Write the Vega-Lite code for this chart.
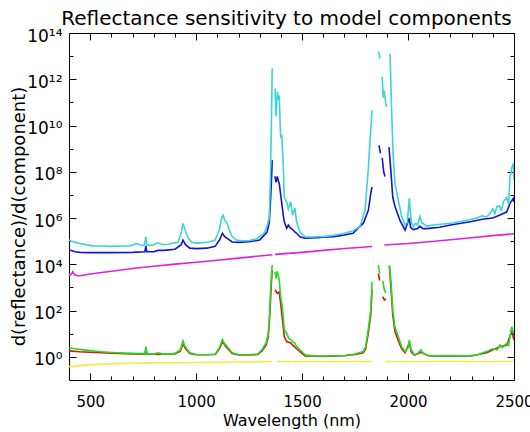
{
  "$schema": "https://vega.github.io/schema/vega-lite/v6.json",
  "autosize": "none",
  "padding": {"left": 69, "top": 33, "right": 16, "bottom": 52},
  "width": 445,
  "height": 347,
  "background": "white",
  "title": {"text": "Reflectance sensitivity to model components", "font": "DejaVu Sans", "fontSize": 20, "fontWeight": "normal", "color": "black", "anchor": "middle", "baseline": "alphabetic", "offset": 9, "dx": -5, "dy": 27},
  "config": {
    "view": {"stroke": "black", "strokeWidth": 1},
    "axis": {"domain": false, "grid": false, "tickColor": "black", "tickWidth": 1, "labelColor": "black", "titleColor": "black", "labelFont": "DejaVu Sans", "titleFont": "DejaVu Sans", "titleFontWeight": "normal", "labelFlush": false, "labelOverlap": false, "labelBound": false}
  },
  "datasets": {
    "cyan": [
      {"w":400,"v":1.12e5},{"w":410,"v":1.0e5},{"w":430,"v":8.9e4},{"w":450,"v":7.9e4},{"w":480,"v":7.1e4},{"w":510,"v":6.3e4},{"w":550,"v":6.2e4},{"w":600,"v":6.0e4},{"w":650,"v":6.2e4},{"w":690,"v":6.3e4},{"w":705,"v":7.1e4},{"w":720,"v":7.9e4},{"w":735,"v":6.8e4},{"w":755,"v":6.6e4},{"w":760,"v":1.12e5},{"w":763,"v":1.55e5},{"w":767,"v":7.1e4},{"w":780,"v":6.6e4},{"w":800,"v":6.9e4},{"w":815,"v":8.3e4},{"w":825,"v":7.9e4},{"w":840,"v":7.2e4},{"w":870,"v":7.4e4},{"w":895,"v":8.3e4},{"w":915,"v":8.9e4},{"w":930,"v":2.5e5},{"w":938,"v":5.9e5},{"w":945,"v":3.6e5},{"w":955,"v":2.0e5},{"w":965,"v":1.26e5},{"w":980,"v":8.9e4},{"w":1000,"v":8.3e4},{"w":1030,"v":8.7e4},{"w":1060,"v":9.3e4},{"w":1090,"v":1.12e5},{"w":1110,"v":3.2e5},{"w":1120,"v":1.0e6},{"w":1127,"v":1.35e6},{"w":1135,"v":7.9e5},{"w":1145,"v":6.3e5},{"w":1155,"v":3.2e5},{"w":1170,"v":1.58e5},{"w":1190,"v":1.12e5},{"w":1220,"v":1.05e5},{"w":1250,"v":1.07e5},{"w":1280,"v":1.2e5},{"w":1300,"v":1.55e5},{"w":1320,"v":2.2e5},{"w":1335,"v":4.5e5},{"w":1345,"v":1.0e6},{"w":1350,"v":3.2e7},{"w":1355,"v":1.0e10},{"w":1359,"v":2.9e12},{"w":1365,"v":null},{"w":1372,"v":4.0e11},{"w":1377,"v":2.5e10},{"w":1383,"v":2.8e11},{"w":1388,"v":1.6e11},{"w":1392,"v":2.0e11},{"w":1399,"v":2.8e9},{"w":1404,"v":4.0e9},{"w":1411,"v":2.0e8},{"w":1416,"v":7.9e6},{"w":1427,"v":5.0e6},{"w":1435,"v":2.5e6},{"w":1446,"v":5.0e6},{"w":1455,"v":1.35e6},{"w":1466,"v":2.7e6},{"w":1474,"v":6.9e5},{"w":1490,"v":2.5e5},{"w":1514,"v":1.55e5},{"w":1540,"v":1.51e5},{"w":1570,"v":1.55e5},{"w":1600,"v":1.58e5},{"w":1650,"v":1.78e5},{"w":1700,"v":2.2e5},{"w":1740,"v":2.8e5},{"w":1773,"v":4.2e5},{"w":1797,"v":2.2e6},{"w":1812,"v":1.17e8},{"w":1824,"v":6.3e9},{"w":1830,"v":4.6e10},{"w":1836,"v":null},{"w":1860,"v":1.6e13},{"w":1868,"v":7.9e12},{"w":1873,"v":null},{"w":1878,"v":1.26e12},{"w":1883,"v":1.6e11},{"w":1888,"v":3.2e11},{"w":1894,"v":1.0e11},{"w":1899,"v":6.3e10},{"w":1905,"v":null},{"w":1915,"v":1.26e13},{"w":1923,"v":3.2e10},{"w":1930,"v":4.4e8},{"w":1938,"v":3.2e7},{"w":1954,"v":6.0e6},{"w":1970,"v":1.15e6},{"w":1986,"v":5.0e5},{"w":1996,"v":6.3e5},{"w":2006,"v":7.2e6},{"w":2012,"v":1.26e6},{"w":2017,"v":6.0e5},{"w":2025,"v":4.2e5},{"w":2033,"v":5.9e5},{"w":2045,"v":5.0e5},{"w":2056,"v":1.15e6},{"w":2065,"v":6.3e5},{"w":2088,"v":4.5e5},{"w":2120,"v":5.0e5},{"w":2166,"v":5.5e5},{"w":2200,"v":6.0e5},{"w":2250,"v":7.1e5},{"w":2300,"v":8.9e5},{"w":2324,"v":1.0e6},{"w":2350,"v":1.26e6},{"w":2370,"v":1.12e6},{"w":2387,"v":1.58e6},{"w":2400,"v":2.5e6},{"w":2410,"v":1.58e6},{"w":2420,"v":3.2e6},{"w":2434,"v":3.2e6},{"w":2440,"v":2.0e6},{"w":2450,"v":5.0e6},{"w":2466,"v":7.9e6},{"w":2475,"v":4.0e6},{"w":2481,"v":6.0e7},{"w":2490,"v":1.58e8},{"w":2497,"v":2.3e8},{"w":2500,"v":4.4e7}
    ],
    "blue": [
      {"w":400,"v":4.2e4},{"w":410,"v":4.0e4},{"w":430,"v":3.5e4},{"w":450,"v":3.3e4},{"w":500,"v":3.2e4},{"w":600,"v":3.2e4},{"w":700,"v":3.3e4},{"w":758,"v":3.5e4},{"w":763,"v":6.2e4},{"w":767,"v":3.5e4},{"w":800,"v":3.5e4},{"w":820,"v":4.0e4},{"w":850,"v":4.0e4},{"w":900,"v":4.5e4},{"w":930,"v":7.1e4},{"w":938,"v":1.12e5},{"w":950,"v":7.1e4},{"w":970,"v":5.0e4},{"w":1000,"v":4.8e4},{"w":1050,"v":5.0e4},{"w":1090,"v":6.0e4},{"w":1110,"v":1.12e5},{"w":1124,"v":2.2e5},{"w":1135,"v":1.58e5},{"w":1150,"v":1.26e5},{"w":1170,"v":9.3e4},{"w":1200,"v":8.9e4},{"w":1250,"v":9.5e4},{"w":1300,"v":1.12e5},{"w":1320,"v":1.78e5},{"w":1335,"v":2.5e5},{"w":1345,"v":6.3e5},{"w":1350,"v":4.0e6},{"w":1355,"v":3.2e7},{"w":1359,"v":3.2e8},{"w":1365,"v":null},{"w":1372,"v":6.3e7},{"w":1377,"v":3.5e7},{"w":1383,"v":6.3e7},{"w":1388,"v":4.0e7},{"w":1392,"v":3.2e7},{"w":1399,"v":1.0e7},{"w":1406,"v":3.2e6},{"w":1411,"v":1.35e6},{"w":1416,"v":6.9e5},{"w":1427,"v":3.6e5},{"w":1435,"v":5.0e5},{"w":1446,"v":3.6e5},{"w":1455,"v":3.2e5},{"w":1466,"v":2.5e5},{"w":1474,"v":2.2e5},{"w":1490,"v":1.55e5},{"w":1514,"v":1.35e5},{"w":1570,"v":1.41e5},{"w":1600,"v":1.48e5},{"w":1650,"v":1.58e5},{"w":1700,"v":1.86e5},{"w":1740,"v":2.2e5},{"w":1789,"v":6.0e5},{"w":1813,"v":2.2e6},{"w":1824,"v":1.17e7},{"w":1830,"v":2.2e7},{"w":1836,"v":null},{"w":1863,"v":1.4e9},{"w":1870,"v":6.3e8},{"w":1873,"v":null},{"w":1878,"v":4.0e8},{"w":1885,"v":1.0e8},{"w":1891,"v":6.3e7},{"w":1905,"v":null},{"w":1910,"v":1.17e9},{"w":1920,"v":7.9e7},{"w":1928,"v":7.9e6},{"w":1938,"v":3.2e6},{"w":1962,"v":7.9e5},{"w":1986,"v":3.0e5},{"w":2006,"v":1.0e6},{"w":2012,"v":4.0e5},{"w":2025,"v":3.2e5},{"w":2045,"v":3.5e5},{"w":2056,"v":4.5e5},{"w":2070,"v":3.5e5},{"w":2088,"v":3.5e5},{"w":2150,"v":4.0e5},{"w":2200,"v":5.0e5},{"w":2250,"v":6.0e5},{"w":2300,"v":7.1e5},{"w":2350,"v":8.9e5},{"w":2400,"v":1.0e6},{"w":2434,"v":1.35e6},{"w":2466,"v":1.86e6},{"w":2481,"v":4.3e6},{"w":2497,"v":7.1e6},{"w":2500,"v":5.0e6}
    ],
    "magenta": [
      {"w":400,"v":3.5e3},{"w":410,"v":3.6e3},{"w":418,"v":4.8e3},{"w":425,"v":3.6e3},{"w":440,"v":3.2e3},{"w":460,"v":3.3e3},{"w":500,"v":3.8e3},{"w":600,"v":5.0e3},{"w":700,"v":6.6e3},{"w":800,"v":8.3e3},{"w":900,"v":1.02e4},{"w":1000,"v":1.23e4},{"w":1100,"v":1.5e4},{"w":1200,"v":1.86e4},{"w":1300,"v":2.3e4},{"w":1360,"v":2.6e4},{"w":1365,"v":null},{"w":1372,"v":2.7e4},{"w":1500,"v":3.3e4},{"w":1600,"v":4.0e4},{"w":1700,"v":4.8e4},{"w":1800,"v":5.6e4},{"w":1830,"v":5.9e4},{"w":1836,"v":null},{"w":1888,"v":6.9e4},{"w":2000,"v":7.9e4},{"w":2100,"v":9.5e4},{"w":2200,"v":1.15e5},{"w":2300,"v":1.41e5},{"w":2400,"v":1.74e5},{"w":2500,"v":2.1e5}
    ],
    "green": [
      {"w":400,"v":2.5},{"w":420,"v":2.3},{"w":450,"v":2.1},{"w":500,"v":1.86},{"w":550,"v":1.66},{"w":600,"v":1.55},{"w":650,"v":1.48},{"w":700,"v":1.41},{"w":740,"v":1.38},{"w":758,"v":1.38},{"w":763,"v":2.75},{"w":768,"v":1.38},{"w":800,"v":1.32},{"w":820,"v":1.51},{"w":840,"v":1.35},{"w":880,"v":1.32},{"w":900,"v":1.41},{"w":925,"v":2.0},{"w":938,"v":4.9},{"w":945,"v":3.16},{"w":955,"v":2.24},{"w":970,"v":1.51},{"w":1000,"v":1.26},{"w":1050,"v":1.23},{"w":1090,"v":1.32},{"w":1110,"v":2.5},{"w":1124,"v":5.75},{"w":1132,"v":3.98},{"w":1140,"v":3.3},{"w":1155,"v":2.24},{"w":1170,"v":1.51},{"w":1200,"v":1.26},{"w":1250,"v":1.2},{"w":1290,"v":1.32},{"w":1310,"v":2.0},{"w":1330,"v":3.98},{"w":1340,"v":10},{"w":1345,"v":40},{"w":1350,"v":400},{"w":1355,"v":3200},{"w":1359,"v":9300},{"w":1365,"v":null},{"w":1372,"v":4800},{"w":1377,"v":2500},{"w":1383,"v":5000},{"w":1388,"v":3200},{"w":1392,"v":2100},{"w":1399,"v":400},{"w":1406,"v":160},{"w":1411,"v":55},{"w":1416,"v":14.8},{"w":1427,"v":10.5},{"w":1437,"v":6.3},{"w":1446,"v":5.4},{"w":1455,"v":4.6},{"w":1466,"v":4.0},{"w":1474,"v":2.8},{"w":1490,"v":2.0},{"w":1514,"v":1.23},{"w":1550,"v":1.1},{"w":1600,"v":1.07},{"w":1650,"v":1.12},{"w":1700,"v":1.15},{"w":1750,"v":1.32},{"w":1789,"v":1.7},{"w":1800,"v":2.8},{"w":1812,"v":14.8},{"w":1824,"v":107},{"w":1830,"v":1780},{"w":1836,"v":null},{"w":1860,"v":9300},{"w":1866,"v":4000},{"w":1873,"v":null},{"w":1880,"v":2000},{"w":1888,"v":800},{"w":1896,"v":575},{"w":1905,"v":null},{"w":1912,"v":9300},{"w":1920,"v":1500},{"w":1928,"v":107},{"w":1938,"v":20},{"w":1954,"v":7.6},{"w":1970,"v":2.75},{"w":1986,"v":1.7},{"w":2000,"v":2.5},{"w":2006,"v":5.4},{"w":2015,"v":2.0},{"w":2030,"v":1.23},{"w":2045,"v":1.41},{"w":2060,"v":2.0},{"w":2075,"v":1.32},{"w":2100,"v":1.12},{"w":2135,"v":1.1},{"w":2200,"v":1.1},{"w":2292,"v":1.1},{"w":2330,"v":1.26},{"w":2371,"v":1.7},{"w":2400,"v":2.24},{"w":2420,"v":2.0},{"w":2434,"v":3.3},{"w":2445,"v":2.5},{"w":2466,"v":3.9},{"w":2475,"v":3.16},{"w":2489,"v":20},{"w":2500,"v":10}
    ],
    "red": [
      {"w":400,"v":1.82},{"w":450,"v":1.66},{"w":500,"v":1.58},{"w":600,"v":1.45},{"w":700,"v":1.35},{"w":758,"v":1.32},{"w":763,"v":2.24},{"w":768,"v":1.32},{"w":800,"v":1.29},{"w":900,"v":1.32},{"w":925,"v":1.78},{"w":938,"v":3.6},{"w":950,"v":2.24},{"w":970,"v":1.41},{"w":1000,"v":1.23},{"w":1090,"v":1.26},{"w":1110,"v":2.24},{"w":1124,"v":4.6},{"w":1140,"v":2.8},{"w":1170,"v":1.41},{"w":1200,"v":1.2},{"w":1290,"v":1.26},{"w":1310,"v":1.78},{"w":1330,"v":3.2},{"w":1340,"v":7.1},{"w":1345,"v":25},{"w":1350,"v":200},{"w":1355,"v":1600},{"w":1359,"v":5600},{"w":1365,"v":null},{"w":1372,"v":800},{"w":1383,"v":560},{"w":1392,"v":630},{"w":1399,"v":200},{"w":1411,"v":20},{"w":1416,"v":7.6},{"w":1427,"v":4.6},{"w":1446,"v":4.0},{"w":1455,"v":3.3},{"w":1474,"v":2.24},{"w":1490,"v":1.7},{"w":1514,"v":1.1},{"w":1600,"v":1.05},{"w":1700,"v":1.12},{"w":1750,"v":1.26},{"w":1789,"v":1.51},{"w":1800,"v":2.24},{"w":1812,"v":10},{"w":1824,"v":63},{"w":1830,"v":800},{"w":1836,"v":null},{"w":1860,"v":4000},{"w":1866,"v":2000},{"w":1873,"v":null},{"w":1880,"v":400},{"w":1888,"v":290},{"w":1896,"v":316},{"w":1905,"v":null},{"w":1912,"v":7900},{"w":1920,"v":800},{"w":1928,"v":63},{"w":1938,"v":12.6},{"w":1954,"v":5.0},{"w":1970,"v":2.24},{"w":1986,"v":1.51},{"w":2006,"v":4.0},{"w":2015,"v":1.66},{"w":2030,"v":1.17},{"w":2060,"v":1.58},{"w":2100,"v":1.1},{"w":2200,"v":1.07},{"w":2300,"v":1.1},{"w":2371,"v":1.51},{"w":2434,"v":2.8},{"w":2466,"v":3.16},{"w":2489,"v":12.6},{"w":2500,"v":5.4}
    ],
    "yellow": [
      {"w":400,"v":0.38},{"w":450,"v":0.42},{"w":500,"v":0.46},{"w":600,"v":0.5},{"w":700,"v":0.54},{"w":800,"v":0.55},{"w":1000,"v":0.575},{"w":1200,"v":0.6},{"w":1360,"v":0.63},{"w":1365,"v":null},{"w":1380,"v":0.63},{"w":1830,"v":0.63},{"w":1836,"v":null},{"w":1895,"v":0.63},{"w":2500,"v":0.63}
    ]
  },
  "layer": [
    {
      "data": {"name": "yellow"},
      "mark": {"type": "line", "color": "#eeee44", "strokeWidth": 1.6, "clip": true, "invalid": "break-paths-filter-domains"},
      "encoding": {
        "x": {"field": "w", "type": "quantitative", "scale": {"domain": [400, 2500], "nice": false, "zero": false},
              "axis": {"orient": "bottom", "values": [500, 1000, 1500, 2000, 2500], "format": "d", "tickSize": -7, "labelPadding": 28, "labelBaseline": "middle", "labelFontSize": 15, "title": "Wavelength (nm)", "titleFontSize": 16, "titleY": 40, "titleBaseline": "middle"}},
        "y": {"field": "v", "type": "quantitative", "scale": {"type": "log", "domain": [0.1, 1e14], "nice": false},
              "axis": {"orient": "left", "values": [1, 100, 1e4, 1e6, 1e8, 1e10, 1e12, 1e14], "tickSize": -7, "labelPadding": 14, "labelFontSize": 17, "labelOffset": 3,
                       "labelExpr": "'10' + replace(replace(replace(replace(replace(replace(format(round(log(datum.value)/LN10), 'd'), '0', '⁰'), '1', '¹'), '2', '²'), '4', '⁴'), '6', '⁶'), '8', '⁸')",
                       "title": "d(reflectance)/d(component)", "titleFontSize": 18, "titleX": -50, "titleY": 183, "titleBaseline": "middle", "titleAngle": -90}}
      }
    },
    {
      "data": {"name": "red"},
      "mark": {"type": "line", "color": "#dd1111", "strokeWidth": 1.6, "clip": true, "invalid": "break-paths-filter-domains"},
      "encoding": {
        "x": {"field": "w", "type": "quantitative", "scale": {"domain": [400, 2500], "nice": false, "zero": false},
              "axis": {"orient": "top", "values": [500, 1000, 1500, 2000, 2500], "tickSize": -7, "labels": false, "title": null}},
        "y": {"field": "v", "type": "quantitative", "scale": {"type": "log", "domain": [0.1, 1e14], "nice": false},
              "axis": {"orient": "right", "values": [1, 100, 1e4, 1e6, 1e8, 1e10, 1e12, 1e14], "tickSize": -7, "labels": false, "title": null}}
      }
    },
    {
      "data": {"name": "green"},
      "mark": {"type": "line", "color": "#22dd22", "strokeWidth": 1.6, "clip": true, "invalid": "break-paths-filter-domains"},
      "encoding": {
        "x": {"field": "w", "type": "quantitative", "scale": {"domain": [400, 2500], "nice": false, "zero": false},
              "axis": {"orient": "bottom", "values": [600, 700, 800, 900, 1100, 1200, 1300, 1400, 1600, 1700, 1800, 1900, 2100, 2200, 2300, 2400], "tickSize": -4, "labels": false, "title": null}},
        "y": {"field": "v", "type": "quantitative", "scale": {"type": "log", "domain": [0.1, 1e14], "nice": false},
              "axis": {"orient": "left", "values": [10, 1e3, 1e5, 1e7, 1e9, 1e11, 1e13], "tickSize": -4, "labels": false, "title": null}}
      }
    },
    {
      "data": {"name": "magenta"},
      "mark": {"type": "line", "color": "#e020dc", "strokeWidth": 1.6, "clip": true, "invalid": "break-paths-filter-domains"},
      "encoding": {
        "x": {"field": "w", "type": "quantitative", "scale": {"domain": [400, 2500], "nice": false, "zero": false},
              "axis": {"orient": "top", "values": [600, 700, 800, 900, 1100, 1200, 1300, 1400, 1600, 1700, 1800, 1900, 2100, 2200, 2300, 2400], "tickSize": -4, "labels": false, "title": null}},
        "y": {"field": "v", "type": "quantitative", "scale": {"type": "log", "domain": [0.1, 1e14], "nice": false},
              "axis": {"orient": "right", "values": [10, 1e3, 1e5, 1e7, 1e9, 1e11, 1e13], "tickSize": -4, "labels": false, "title": null}}
      }
    },
    {
      "data": {"name": "blue"},
      "mark": {"type": "line", "color": "#1414c8", "strokeWidth": 1.6, "clip": true, "invalid": "break-paths-filter-domains"},
      "encoding": {
        "x": {"field": "w", "type": "quantitative", "scale": {"domain": [400, 2500], "nice": false, "zero": false}, "axis": null},
        "y": {"field": "v", "type": "quantitative", "scale": {"type": "log", "domain": [0.1, 1e14], "nice": false}, "axis": null}
      }
    },
    {
      "data": {"name": "cyan"},
      "mark": {"type": "line", "color": "#3cd4d4", "strokeWidth": 1.6, "clip": true, "invalid": "break-paths-filter-domains"},
      "encoding": {
        "x": {"field": "w", "type": "quantitative", "scale": {"domain": [400, 2500], "nice": false, "zero": false}, "axis": null},
        "y": {"field": "v", "type": "quantitative", "scale": {"type": "log", "domain": [0.1, 1e14], "nice": false}, "axis": null}
      }
    }
  ],
  "resolve": {"axis": {"x": "independent", "y": "independent"}}
}
